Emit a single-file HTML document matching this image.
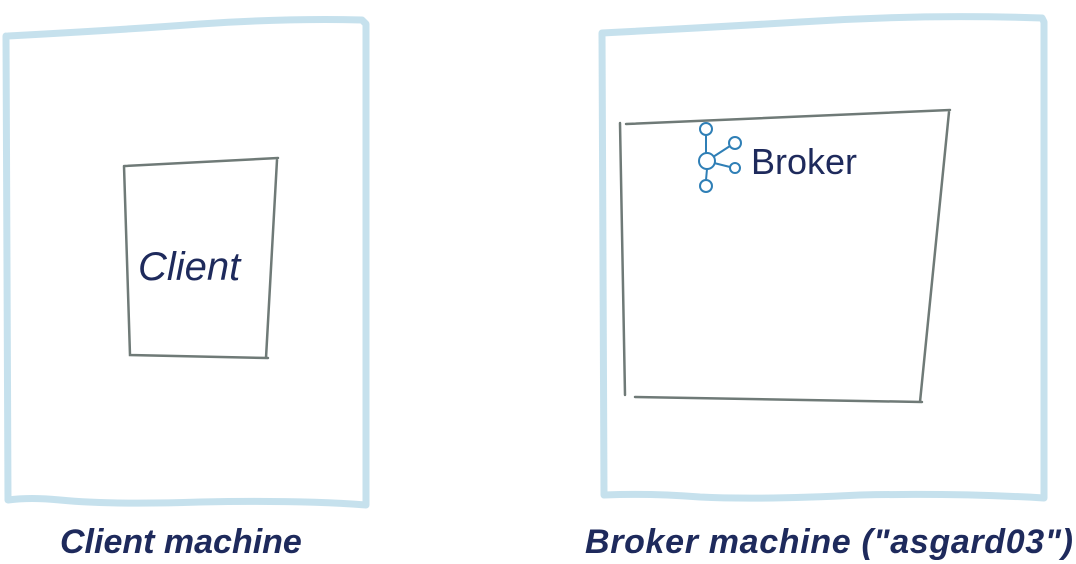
<!DOCTYPE html>
<html><head><meta charset="utf-8"><style>
html,body{margin:0;padding:0;background:#fff;width:1076px;height:564px;overflow:hidden}
svg{display:block}
.frame{fill:none;stroke:#bcdcea;stroke-width:7;stroke-linecap:round;stroke-linejoin:round;opacity:.85}
.box{fill:none;stroke:#6f7a77;stroke-width:2.5;stroke-linecap:round}
.hand{font-family:"Liberation Sans",sans-serif;fill:#1e2a5c}
.lbl{font-family:"Liberation Sans",sans-serif;font-style:italic;font-weight:bold;fill:#1e2a5c;font-size:34px}
.net{fill:none;stroke:#2f7fb6;stroke-width:2}
</style></head><body>
<svg width="1076" height="564" viewBox="0 0 1076 564">
<g>
<path class="frame" d="M8,36 Q120,30 200,24 Q290,18 362,20 L366,24 L366,505 Q300,500 200,502 Q110,505 60,500 Q30,497 8,500 L6,36"/>
</g>
<g>
<path class="box" d="M125,166 L278,158 M124,166 L130,355 L268,358 M277,160 L266,358"/>
<text class="hand" x="138" y="280" font-size="40" font-style="italic">Client</text>
</g>
<g>
<path class="frame" d="M602,33 Q700,28 800,22 Q920,14 1042,18 L1044,22 L1044,498 Q960,493 860,495 Q760,500 700,497 Q650,493 604,495 L602,33"/>
</g>
<g>
<path class="box" d="M620,123 L625,395 M626,124 L950,110 M949,112 L920,402 M635,397 L922,402"/>
</g>
<g>
<circle class="net" cx="706" cy="129" r="6"/>
<circle class="net" cx="735" cy="143" r="6"/>
<circle class="net" cx="707" cy="161" r="8"/>
<circle class="net" cx="735" cy="168" r="5"/>
<circle class="net" cx="706" cy="186" r="6"/>
<path class="net" d="M706,135 L706,153 M713,157 L730,146 M714,163 L730,167 M707,169 L706,180"/>
</g>
<text class="hand" x="751" y="174" font-size="36">Broker</text>
<text class="lbl" x="60" y="553">Client machine</text>
<text class="lbl" x="585" y="553" textLength="488">Broker machine ("asgard03")</text>
</svg>
</body></html>
